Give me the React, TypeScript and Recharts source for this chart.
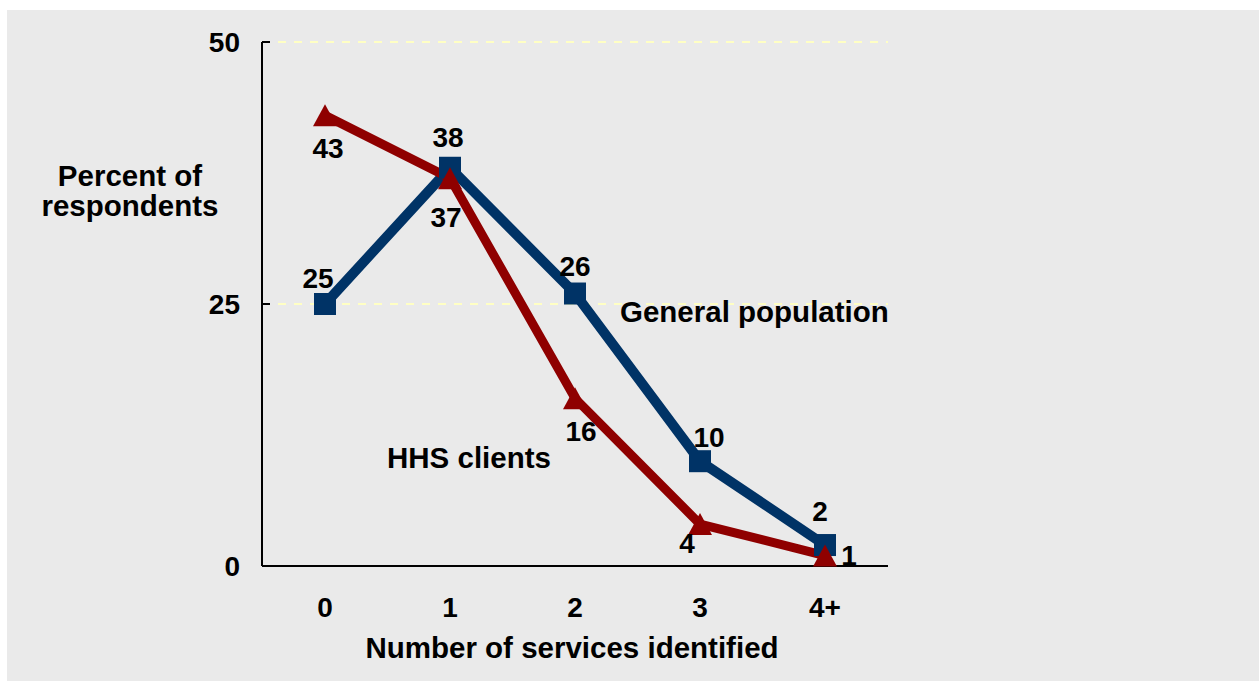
import { LineChart, Line, XAxis, YAxis, CartesianGrid, LabelList, Label } from "recharts";

const categories = ["0", "1", "2", "3", "4+"];
const generalPopulation = [25, 38, 26, 10, 2];
const hhsClients = [43, 37, 16, 4, 1];
const yTicks = [0, 25, 50];

const data = categories.map((cat, i) => ({
  cat,
  gen: generalPopulation[i],
  hhs: hhsClients[i],
}));

// per-point nudges for the value labels: [dx, baseline dy]
const genLabelOffsets = [[-7, -16], [-2, -21], [0, -18], [9, -14], [-5, -24]];
const hhsLabelOffsets = [[3, 43], [-4, 49], [6, 43], [-13, 29], [24, 9]];

const BLUE = "#003366";
const RED = "#8f0000";
const FONT = "'Liberation Sans', Arial, sans-serif";
const textStyle = { fontFamily: FONT, fontWeight: 700, fontSize: 28, fill: "#000" };
const titleStyle = { ...textStyle, fontSize: 29.5 };

const W = 1252;
const H = 671;

function SquareDot(props: any) {
  const { cx, cy, index } = props;
  return <rect key={`sq-${index}`} x={cx - 11} y={cy - 11} width={22} height={22} fill={BLUE} />;
}

function TriangleDot(props: any) {
  const { cx, cy, index } = props;
  return (
    <path
      key={`tri-${index}`}
      d={`M${cx},${cy - 11} L${cx + 12},${cy + 11} L${cx - 12},${cy + 11} Z`}
      fill={RED}
    />
  );
}

const valueLabel = (offsets: number[][]) => (props: any) => {
  const { x, y, value, index } = props;
  const [dx, dy] = offsets[index] || [0, 0];
  return (
    <text key={`lbl-${index}`} x={x + dx} y={y + dy} textAnchor="middle" style={textStyle}>
      {value}
    </text>
  );
};

function YTick(props: any) {
  const { x, y, payload } = props;
  return (
    <g>
      <line x1={x} x2={x + 8} y1={y} y2={y} stroke="#000" strokeWidth={2} />
      <text x={x - 22} y={y} dy="0.36em" textAnchor="end" style={textStyle}>
        {payload.value}
      </text>
    </g>
  );
}

export default function App() {
  return (
    <div
      style={{
        position: "absolute",
        left: 7,
        top: 10,
        width: W,
        height: H,
        background: "#eaeaea",
      }}
    >
      <LineChart width={W} height={H} data={data} margin={{ top: 32, right: 371, bottom: 55, left: 0 }}>
        <CartesianGrid vertical={false} stroke="#ffffc4" strokeWidth={2} strokeDasharray="8 8" />
        <XAxis
          dataKey="cat"
          height={60}
          padding={{ left: 63, right: 63 }}
          axisLine={{ stroke: "#000", strokeWidth: 2 }}
          tickLine={false}
          tickSize={0}
          tickMargin={31}
          tick={textStyle}
        >
          <Label
            content={(p: any) => {
              const vb = p.viewBox;
              return (
                <text x={vb.x + vb.width / 2 - 3} y={vb.y + 92} textAnchor="middle" style={titleStyle}>
                  Number of services identified
                </text>
              );
            }}
          />
        </XAxis>
        <YAxis
          width={255}
          domain={[0, 50]}
          ticks={yTicks}
          axisLine={{ stroke: "#000", strokeWidth: 2 }}
          tickLine={false}
          tickSize={0}
          tickMargin={0}
          tick={<YTick />}
        >
          <Label
            content={(p: any) => {
              const vb = p.viewBox;
              return (
                <text textAnchor="middle" style={titleStyle}>
                  <tspan x={123} y={vb.y + 144}>Percent of</tspan>
                  <tspan x={123} y={vb.y + 174}>respondents</tspan>
                </text>
              );
            }}
          />
        </YAxis>
        <Line
          dataKey="gen"
          type="linear"
          stroke={BLUE}
          strokeWidth={10}
          dot={SquareDot}
          activeDot={false}
          isAnimationActive={false}
        >
          <LabelList dataKey="gen" content={valueLabel(genLabelOffsets)} />
        </Line>
        <Line
          dataKey="hhs"
          type="linear"
          stroke={RED}
          strokeWidth={9}
          dot={TriangleDot}
          activeDot={false}
          isAnimationActive={false}
        >
          <LabelList dataKey="hhs" content={valueLabel(hhsLabelOffsets)} />
        </Line>
      </LineChart>
      <svg
        width={W}
        height={H}
        style={{ position: "absolute", left: 0, top: 0, pointerEvents: "none" }}
      >
        <text x={613} y={312} style={titleStyle}>General population</text>
        <text x={380} y={458} style={titleStyle}>HHS clients</text>
      </svg>
    </div>
  );
}
